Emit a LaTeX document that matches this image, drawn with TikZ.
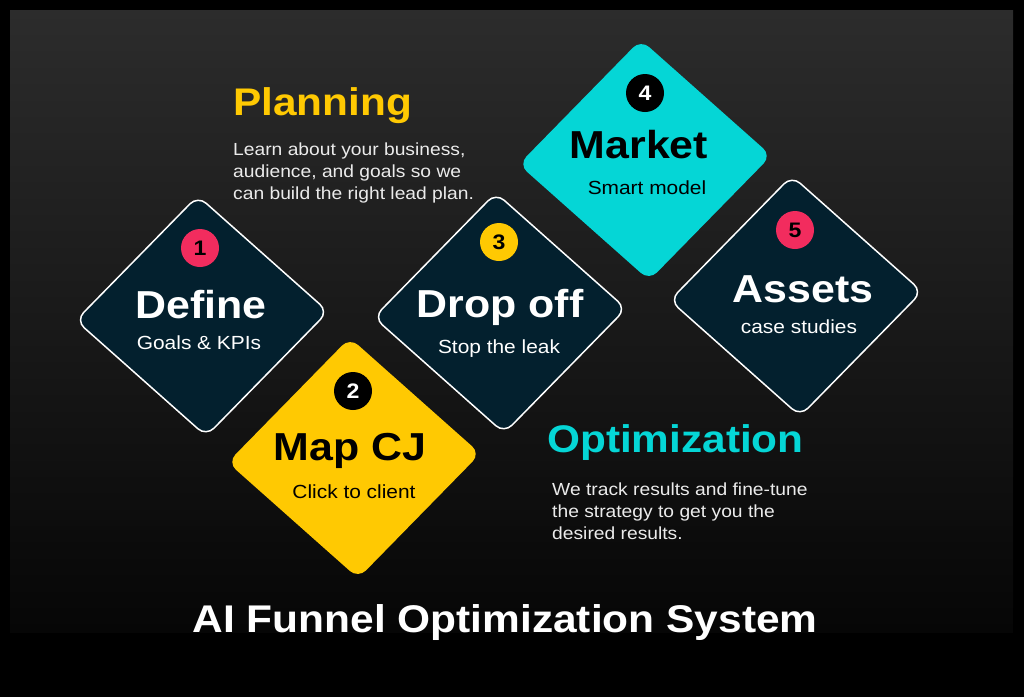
\documentclass[tikz,border=0pt]{standalone}
\usepackage{fontspec}
\setmainfont{Liberation Sans}[FakeStretch=1.1]
\usetikzlibrary{shapes.geometric,positioning}
\definecolor{panelTop}{HTML}{2C2C2C}
\definecolor{panelBot}{HTML}{060606}
\definecolor{navy}{HTML}{03202E}
\definecolor{sun}{HTML}{FFC902}
\definecolor{aqua}{HTML}{05D6D6}
\definecolor{rose}{HTML}{F22C5E}
\tikzstyle{tile}=[
shape=diamond,
minimum width=253pt,
minimum height=241pt,
inner sep=0pt,
rounded corners=11pt,
rotate=2
]
\tikzstyle{darktile}=[tile,fill=navy,draw=white,line width=1.5pt]
\tikzstyle{badge}=[shape=circle,minimum size=38pt,inner sep=0pt,font=\fontsize{21}{21}\selectfont\bfseries]
\tikzstyle{head}=[anchor=base,inner sep=0pt,font=\fontsize{39}{39}\selectfont\bfseries]
\tikzstyle{sub}=[anchor=base,inner sep=0pt,font=\fontsize{19}{19}\selectfont]
\tikzstyle{phase}=[anchor=base west,inner sep=0pt,font=\fontsize{38.5}{38.5}\selectfont\bfseries]
\tikzstyle{blurb}=[anchor=base west,inner sep=0pt,align=left,text=white!92!black,font=\fontsize{17.5}{22}\selectfont]

\begin{document}
\begin{tikzpicture}[x=1pt,y=-1pt]

% background
\fill[black] (0,0) rectangle (1024,697);
\shade[top color=panelTop,bottom color=panelBot] (10,10) rectangle (1013,632);

% tiles
\node[darktile]			(d1) at (202,316) {};
\node[tile,fill=sun]	(d2) at (354,458) {};
\node[darktile]			(d3) at (500,313) {};
\node[tile,fill=aqua]	(d4) at (645,160) {};
\node[darktile]			(d5) at (796,296) {};

% badges
\node[badge,fill=rose,text=black]	(n1) at (200,248) {1};
\node[badge,fill=black,text=white]	(n2) at (353,391) {2};
\node[badge,fill=sun,text=black]	(n3) at (499,242) {3};
\node[badge,fill=black,text=white]	(n4) at (645,93) {4};
\node[badge,fill=rose,text=black]	(n5) at (795,230) {5};

% tile texts
\node[head,text=white]	(t1) at (201,318) {Define};
\node[sub,text=white]	(s1) at (199,349) {Goals \& KPIs};
\node[head,text=black]	(t2) at (350,460) {Map CJ};
\node[sub,text=black]	(s2) at (354,498) {Click to client};
\node[head,text=white]	(t3) at (500,317) {Drop off};
\node[sub,text=white]	(s3) at (499,353) {Stop the leak};
\node[head,text=black]	(t4) at (639,158) {Market};
\node[sub,text=black]	(s4) at (647,194) {Smart model};
\node[head,text=white]	(t5) at (803,302) {Assets};
\node[sub,text=white]	(s5) at (799,333) {case studies};

% phases
\node[phase,text=sun]	(plan) at (233,115) {Planning};
\node[blurb]			(planText) at (233,199) {Learn about your business,\\audience, and goals so we\\can build the right lead plan.};
\node[phase,text=aqua]	(opt) at (547,452) {Optimization};
\node[blurb]			(optText) at (552,539) {We track results and fine-tune\\the strategy to get you the\\desired results.};

% title
\node[anchor=base,inner sep=0pt,text=white,font=\fontsize{38.6}{38.6}\selectfont\bfseries] (title) at (505,632) {AI Funnel Optimization System};

\end{tikzpicture}
\end{document}
